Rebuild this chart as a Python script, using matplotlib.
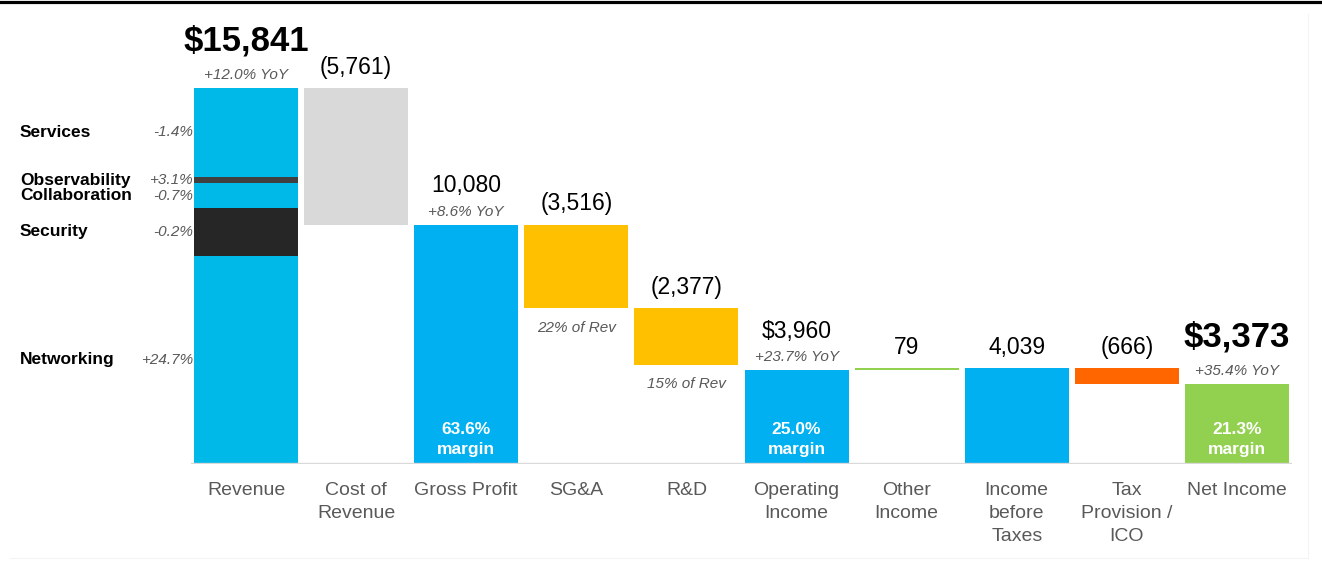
import matplotlib
matplotlib.use("Agg")
import matplotlib.pyplot as plt
from matplotlib.lines import Line2D

plt.rcParams['font.family'] = ['Liberation Sans', 'DejaVu Sans']

# ---------------- data ----------------
categories = ["Revenue", "Cost of\nRevenue", "Gross Profit", "SG&A", "R&D",
              "Operating\nIncome", "Other\nIncome", "Income\nbefore\nTaxes",
              "Tax\nProvision /\nICO", "Net Income"]
values = [15841, -5761, 10080, -3516, -2377, 3960, 79, 4039, -666, 3373]
is_total = [True, False, True, False, False, True, False, True, False, True]
value_labels = ["$15,841", "(5,761)", "10,080", "(3,516)", "(2,377)",
                "$3,960", "79", "4,039", "(666)", "$3,373"]
yoy_labels = {0: "+12.0% YoY", 2: "+8.6% YoY", 5: "+23.7% YoY", 9: "+35.4% YoY"}
rev_share_labels = {3: "22% of Rev", 4: "15% of Rev"}
margin_labels = {2: "63.6%\nmargin", 5: "25.0%\nmargin", 9: "21.3%\nmargin"}

segment_names = ["Networking", "Security", "Collaboration", "Observability", "Services"]
segment_values = [8775, 2020, 1030, 280, 3736]
segment_growth = ["+24.7%", "-0.2%", "-0.7%", "+3.1%", "-1.4%"]

# ---------------- styles ----------------
bar_colors = ["#00B9E9", "#D9D9D9", "#00B0F0", "#FFC000", "#FFC000",
              "#00B0F0", "#92D050", "#00B0F0", "#FF6600", "#92D050"]
segment_colors = ["#00B9E9", "#262626", "#00B9E9", "#404040", "#00B9E9"]
big_bold = {0, 9}

W, H = 1322, 562
fig = plt.figure(figsize=(W / 100, H / 100), dpi=100)
ax_left, ax_right, ax_bottom, ax_top = 191, 1292, 464, 88
ax = fig.add_axes([ax_left / W, (H - ax_bottom) / H,
                   (ax_right - ax_left) / W, (ax_bottom - ax_top) / H])

bar_w = 0.945
running = 0
bottoms, tops = [], []
for i, v in enumerate(values):
    if is_total[i]:
        b, t = 0, v
        running = v
    else:
        start = running
        running = running + v
        b, t = min(start, running), max(start, running)
    bottoms.append(b)
    tops.append(t)

for i in range(len(values)):
    if i == 0:
        acc = 0
        for sv, sc in zip(segment_values, segment_colors):
            ax.bar(i, sv, bottom=acc, width=bar_w, color=sc, linewidth=0)
            acc += sv
    else:
        ax.bar(i, tops[i] - bottoms[i], bottom=bottoms[i], width=bar_w,
               color=bar_colors[i], linewidth=0)

ax.set_xlim(-0.5, len(values) - 0.5)
ax.set_ylim(0, values[0])
ax.axhline(0, color="#D9D9D9", lw=2.4, zorder=3)
for s in ax.spines.values():
    s.set_visible(False)
ax.set_xticks([])
ax.set_yticks([])

# value labels
for i, lab in enumerate(value_labels):
    if i in big_bold:
        ax.annotate(lab, (i, tops[i]), xytext=(0, 34), textcoords="offset points",
                    ha="center", va="center", fontsize=25, fontweight="bold",
                    color="black", annotation_clip=False)
    else:
        off = 28 if i in yoy_labels else 15
        ax.annotate(lab, (i, tops[i]), xytext=(0, off), textcoords="offset points",
                    ha="center", va="center", fontsize=16.5, color="black",
                    annotation_clip=False)

for i, lab in yoy_labels.items():
    ax.annotate(lab, (i, tops[i]), xytext=(0, 9.5), textcoords="offset points",
                ha="center", va="center", fontsize=11, style="italic",
                color="#595959", annotation_clip=False)

for i, lab in rev_share_labels.items():
    ax.annotate(lab, (i, bottoms[i]), xytext=(0, -14), textcoords="offset points",
                ha="center", va="center", fontsize=11, style="italic",
                color="#595959", annotation_clip=False)

for i, lab in margin_labels.items():
    ax.annotate(lab, (i, 0), xytext=(0, 17.5), textcoords="offset points",
                ha="center", va="center", fontsize=12.5, fontweight="bold",
                color="white", linespacing=1.45, annotation_clip=False)

# category labels
for i, lab in enumerate(categories):
    ax.annotate(lab, (i, 0), xytext=(0, -13), textcoords="offset points",
                ha="center", va="top", fontsize=14, color="#595959",
                linespacing=1.45, annotation_clip=False)

# revenue segment labels
ytr = ax.get_yaxis_transform()
acc = 0
for name, sv, g in zip(segment_names, segment_values, segment_growth):
    mid = acc + sv / 2
    ax.text((20 - ax_left) / (ax_right - ax_left), mid, name, transform=ytr,
            ha="left", va="center", fontsize=12.5, fontweight="bold",
            color="black", clip_on=False)
    ax.text((193 - ax_left) / (ax_right - ax_left), mid, g, transform=ytr,
            ha="right", va="center", fontsize=11, style="italic",
            color="#595959", clip_on=False)
    acc += sv

# top rule and faint slide border
fig.add_artist(Line2D([0, 1], [1 - 1.5 / H] * 2, color="black", lw=2.3,
                      transform=fig.transFigure))
fig.add_artist(Line2D([1308 / W] * 2, [1 - 14 / H, 1 - 558 / H], color="#F4F4F4",
                      lw=0.8, transform=fig.transFigure))
fig.add_artist(Line2D([10 / W, 1308 / W], [1 - 558 / H] * 2, color="#F4F4F4",
                      lw=0.8, transform=fig.transFigure))

fig.savefig("out.png", dpi=100, facecolor="white")
